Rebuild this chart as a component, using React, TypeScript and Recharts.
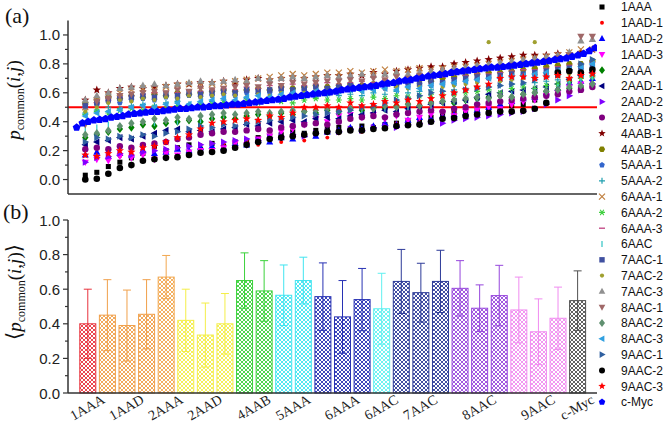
import React from "react";
import { ScatterChart, Scatter, XAxis, YAxis, ReferenceLine, ComposedChart, Bar } from "recharts";

const SANS = "'Liberation Sans', Arial, sans-serif";
const SERIF = "'Liberation Serif', 'DejaVu Serif', 'Times New Roman', serif";

// ---------- panel (a): p_common per sorted pair index (0..44) ----------
const v1AAA = [0.03,0.05,0.09,0.12,0.15,0.18,0.23,0.20,0.22,0.24,0.21,0.25,0.23,0.26,0.27,0.29,0.30,0.31,0.33,0.32,0.34,0.35,0.36,0.35,0.37,0.36,0.38,0.39,0.40,0.41,0.43,0.44,0.46,0.47,0.48,0.49,0.50,0.51,0.52,0.55,0.60,0.72,0.75,0.73,0.75];
const v1AAD1 = [0.17,0.15,0.19,0.16,0.18,0.21,0.14,0.20,0.22,0.19,0.24,0.22, 0.25,0.23,0.27,0.24,0.28,0.26,0.30,0.27,0.31,0.29,0.32, 0.35,0.33,0.37,0.36,0.39,0.38,0.42,0.41,0.44,0.46,0.48, 0.47,0.50,0.52,0.51,0.55,0.57,0.60,0.62,0.63,0.65,0.66];
const v1AAD2 = [0.17,0.19,0.16,0.18,0.17,0.20,0.18,0.19,0.21,0.20,0.22,0.23, 0.22,0.25,0.24,0.27,0.26,0.29,0.28,0.31,0.30,0.33,0.34, 0.36,0.35,0.37,0.39,0.38,0.41,0.43,0.42,0.44,0.45,0.46, 0.48,0.50,0.52,0.54,0.56,0.57,0.60,0.63,0.67,0.68,0.70];
const v1AAD3 = [0.12,0.14,0.13,0.16,0.15,0.17,0.14,0.18,0.17,0.19,0.20,0.20, 0.22,0.25,0.24,0.28,0.30,0.33,0.35,0.38,0.42,0.40,0.44, 0.45,0.43,0.45,0.42,0.44,0.41,0.43,0.45,0.46,0.44,0.47, 0.48,0.50,0.49,0.52,0.54,0.55,0.58,0.60,0.64,0.66,0.65];
const v2AAA = [0.29,0.31,0.33,0.35,0.36,0.38,0.37,0.39,0.40,0.41,0.40,0.42, 0.43,0.42,0.44,0.45,0.44,0.46,0.45,0.47,0.46,0.48,0.47, 0.49,0.48,0.50,0.49,0.51,0.52,0.51,0.53,0.54,0.53,0.55, 0.56,0.57,0.58,0.57,0.59,0.60,0.61,0.62,0.63,0.64,0.66];
const v2AAD1 = [0.24,0.26,0.27,0.29,0.28,0.30,0.32,0.34,0.35,0.33,0.34,0.33, 0.35,0.36,0.38,0.37,0.39,0.40,0.41,0.40,0.42,0.43,0.42, 0.44,0.45,0.46,0.48,0.47,0.49,0.50,0.52,0.53,0.54,0.55, 0.57,0.59,0.60,0.61,0.62,0.63,0.64,0.66,0.69,0.72,0.74];
const v2AAD2 = [0.12,0.15,0.16,0.18,0.17,0.19,0.20,0.21,0.22,0.23,0.24,0.25, 0.26,0.27,0.28,0.27,0.29,0.30,0.31,0.30,0.32,0.33,0.33, 0.35,0.34,0.36,0.37,0.36,0.38,0.39,0.40,0.39,0.41,0.42, 0.43,0.44,0.45,0.46,0.47,0.49,0.52,0.55,0.58,0.62,0.66];
const v2AAD3 = [0.21,0.22,0.21,0.23,0.22,0.24,0.25,0.26,0.28,0.29,0.31,0.32, 0.33,0.33,0.34,0.35,0.34,0.36,0.37,0.38,0.39,0.38,0.40, 0.42,0.43,0.44,0.43,0.45,0.46,0.47,0.48,0.47,0.49,0.50, 0.52,0.53,0.54,0.55,0.56,0.57,0.58,0.59,0.61,0.62,0.64];
const v4AAB1 = [0.55,0.62,0.60,0.63,0.64,0.63,0.64,0.65,0.66,0.66,0.67,0.67, 0.68,0.67,0.69,0.70,0.69,0.70,0.71,0.70,0.71,0.72,0.72, 0.73,0.72,0.74,0.73,0.75,0.76,0.77,0.78,0.78,0.80,0.81, 0.82,0.83,0.84,0.85,0.86,0.86,0.86,0.87,0.87,0.88,0.90];
const v4AAB2 = [0.53,0.55,0.57,0.56,0.58,0.57,0.59,0.58,0.60,0.59,0.60,0.61, 0.62,0.61,0.62,0.63,0.62,0.64,0.63,0.64,0.65,0.64,0.65, 0.66,0.65,0.66,0.67,0.66,0.68,0.69,0.68,0.70,0.71,0.72, 0.73,0.74,0.74,0.75,0.76,0.77,0.78,0.79,0.80,0.80,0.82];
const v5AAA1 = [0.50,0.52,0.54,0.53,0.55,0.56,0.55,0.57,0.56,0.58,0.57,0.58, 0.59,0.58,0.60,0.59,0.60,0.61,0.60,0.62,0.61,0.62,0.62, 0.63,0.62,0.64,0.63,0.65,0.64,0.66,0.65,0.67,0.66,0.68, 0.69,0.70,0.70,0.71,0.72,0.72,0.73,0.74,0.75,0.76,0.77];
const v5AAA2 = [0.46,0.48,0.50,0.49,0.51,0.52,0.51,0.53,0.54,0.52,0.53,0.54, 0.55,0.54,0.56,0.55,0.57,0.56,0.57,0.58,0.57,0.58,0.58, 0.59,0.58,0.60,0.59,0.61,0.60,0.61,0.62,0.61,0.62,0.63, 0.64,0.64,0.65,0.66,0.66,0.67,0.68,0.69,0.70,0.71,0.72];
const v6AAA1 = [0.50,0.55,0.58,0.60,0.62,0.63,0.62,0.64,0.65,0.66,0.65,0.66, 0.67,0.68,0.69,0.70,0.71,0.72,0.73,0.72,0.73,0.74,0.74, 0.75,0.74,0.75,0.76,0.75,0.76,0.77,0.76,0.77,0.78,0.78, 0.79,0.80,0.81,0.82,0.83,0.84,0.85,0.86,0.88,0.90,0.90];
const v6AAA2 = [0.45,0.47,0.46,0.48,0.49,0.48,0.50,0.49,0.51,0.50,0.52,0.52, 0.53,0.52,0.54,0.53,0.55,0.54,0.53,0.55,0.56,0.55,0.55, 0.56,0.55,0.57,0.56,0.58,0.57,0.58,0.59,0.58,0.59,0.60, 0.61,0.62,0.60,0.63,0.64,0.63,0.65,0.66,0.68,0.70,0.71];
const v6AAA3 = [0.50,0.53,0.55,0.57,0.58,0.59,0.60,0.61,0.60,0.62,0.61,0.62, 0.63,0.62,0.64,0.63,0.65,0.64,0.66,0.65,0.66,0.67,0.66, 0.67,0.68,0.67,0.69,0.68,0.70,0.69,0.70,0.71,0.70,0.72, 0.73,0.73,0.74,0.75,0.76,0.76,0.77,0.78,0.79,0.80,0.81];
const v6AAC = [0.35,0.36,0.38,0.37,0.39,0.40,0.39,0.41,0.40,0.42,0.41,0.42, 0.43,0.44,0.43,0.45,0.44,0.46,0.45,0.47,0.46,0.48,0.48, 0.49,0.48,0.50,0.49,0.51,0.50,0.52,0.51,0.53,0.54,0.55, 0.56,0.57,0.58,0.59,0.60,0.61,0.62,0.64,0.66,0.68,0.70];
const v7AAC1 = [0.51,0.53,0.55,0.56,0.57,0.58,0.57,0.59,0.58,0.60,0.59,0.60, 0.61,0.60,0.62,0.61,0.62,0.63,0.62,0.63,0.64,0.63,0.64, 0.65,0.64,0.65,0.66,0.65,0.67,0.66,0.68,0.67,0.69,0.70, 0.71,0.71,0.72,0.73,0.73,0.74,0.75,0.76,0.77,0.78,0.79];
const v7AAC2 = [0.47,0.50,0.53,0.55,0.54,0.56,0.55,0.57,0.56,0.58,0.57,0.58, 0.59,0.58,0.57,0.59,0.58,0.60,0.59,0.60,0.61,0.60,0.61, 0.62,0.61,0.62,0.63,0.64,0.63,0.64,0.65,0.64,0.65,0.66, 0.67,0.95,0.68,0.69,0.70,0.95,0.71,0.72,0.73,0.74,0.76];
const v7AAC3 = [0.55,0.58,0.60,0.63,0.64,0.65,0.66,0.65,0.66,0.67,0.68,0.67, 0.68,0.69,0.68,0.70,0.69,0.70,0.71,0.70,0.71,0.72,0.71, 0.72,0.73,0.72,0.73,0.74,0.73,0.74,0.75,0.76,0.77,0.78, 0.79,0.80,0.81,0.82,0.83,0.84,0.85,0.86,0.88,0.96,0.97];
const v8AAC1 = [0.38,0.54,0.56,0.58,0.59,0.60,0.61,0.60,0.62,0.61,0.63,0.62, 0.63,0.64,0.65,0.64,0.66,0.65,0.67,0.66,0.67,0.68,0.68, 0.69,0.68,0.70,0.69,0.71,0.70,0.72,0.71,0.73,0.74,0.75, 0.76,0.77,0.78,0.79,0.80,0.81,0.82,0.84,0.86,0.99,0.99];
const v8AAC2 = [0.31,0.32,0.34,0.37,0.39,0.40,0.42,0.41,0.43,0.42,0.44,0.45, 0.46,0.45,0.46,0.47,0.46,0.47,0.48,0.47,0.48,0.49,0.48, 0.49,0.50,0.49,0.51,0.50,0.52,0.51,0.53,0.54,0.55,0.56, 0.57,0.56,0.58,0.57,0.59,0.60,0.61,0.62,0.64,0.65,0.66];
const v8AAC3 = [0.44,0.46,0.47,0.48,0.50,0.51,0.50,0.52,0.53,0.52,0.54,0.55, 0.56,0.55,0.57,0.58,0.57,0.59,0.60,0.59,0.61,0.60,0.61, 0.62,0.61,0.62,0.63,0.62,0.64,0.63,0.65,0.66,0.67,0.68, 0.69,0.70,0.70,0.71,0.72,0.73,0.74,0.75,0.76,0.78,0.80];
const v9AAC1 = [0.26,0.29,0.28,0.30,0.29,0.31,0.30,0.32,0.33,0.35,0.37,0.36, 0.38,0.37,0.39,0.40,0.41,0.42,0.43,0.44,0.45,0.46,0.47, 0.48,0.50,0.51,0.53,0.55,0.56,0.58,0.60,0.61,0.60,0.62, 0.63,0.64,0.65,0.66,0.67,0.69,0.71,0.73,0.76,0.80,0.83];
const v9AAC2 = [0.00,0.005,0.04,0.08,0.10,0.13,0.14,0.15,0.155,0.17,0.185,0.19,0.20,0.22,0.24,0.26,0.28,0.29,0.30,0.31,0.32,0.33,0.33,0.34,0.34,0.35,0.355,0.37,0.375,0.38,0.40,0.42,0.425,0.44,0.45,0.46,0.47,0.47,0.475,0.49,0.53,0.74,0.75,0.74,0.76];
const v9AAC3 = [0.17,0.16,0.18,0.20,0.19,0.22,0.23,0.26,0.29,0.31,0.35,0.39, 0.40,0.41,0.42,0.41,0.44,0.43,0.46,0.50,0.50,0.51,0.50, 0.53,0.51,0.52,0.54,0.53,0.55,0.54,0.56,0.58,0.60,0.62, 0.64,0.66,0.70,0.71,0.71,0.70,0.71,0.72,0.70,0.72,0.73];
// c-Myc is sampled twice per index step, starting at index -0.75
const vCMyc = [0.36,0.39,0.40,0.41,0.415,0.42,0.43,0.435,0.44,0.45,0.455,0.46,0.465,0.47,0.47,0.475,0.48,0.485,0.49,0.49,0.495,0.50,0.50,0.505,0.51,0.51,0.515,0.52,0.52,0.525,0.53,0.535,0.54,0.545,0.55,0.555,0.56,0.57,0.575,0.58,0.585,0.59,0.595,0.60,0.605,0.61,0.62,0.625,0.63,0.635,0.64,0.645,0.65,0.66,0.665,0.67,0.68,0.685,0.69,0.70,0.705,0.715,0.72,0.725,0.73,0.74,0.745,0.75,0.755,0.76,0.765,0.77,0.775,0.775,0.78,0.785,0.79,0.795,0.80,0.805,0.81,0.815,0.82,0.83,0.835,0.84,0.85,0.86,0.87,0.89,0.91];

const seriesNames = ["1AAA","1AAD-1","1AAD-2","1AAD-3","2AAA","2AAD-1","2AAD-2","2AAD-3","4AAB-1","4AAB-2","5AAA-1","5AAA-2","6AAA-1","6AAA-2","6AAA-3","6AAC","7AAC-1","7AAC-2","7AAC-3","8AAC-1","8AAC-2","8AAC-3","9AAC-1","9AAC-2","9AAC-3","c-Myc"];
const seriesValues = [v1AAA,v1AAD1,v1AAD2,v1AAD3,v2AAA,v2AAD1,v2AAD2,v2AAD3,v4AAB1,v4AAB2,v5AAA1,v5AAA2,v6AAA1,v6AAA2,v6AAA3,v6AAC,v7AAC1,v7AAC2,v7AAC3,v8AAC1,v8AAC2,v8AAC3,v9AAC1,v9AAC2,v9AAC3,vCMyc];
const seriesColors = ["#000000","#ff0000","#0000ff","#ff00ff","#008000","#000080","#8000ff","#800080","#800000","#808000","#3366cc","#20a0b0","#c08040","#40d040","#c04080","#40c8c8","#4050a0","#a0a030","#909090","#a06868","#609070","#30a0e0","#3060a0","#000000","#ff0000","#0000ff"];
const seriesKinds = ["square","dot","triUp","triDown","diamond","triLeft","triRight","circle","star","hexagon","pentagon","plus","xcross","asterisk","dash","vbar","square","dot","triUp","triDown","diamond","triLeft","triRight","circle","star","pentagon"];
const seriesSizes = [2.8,2.6,3.2,3.2,3.2,3.2,3.2,3.2,3.4,3.2,2.6,3,3,3,3,3,3,2.8,3.3,3.3,3.2,3.2,3.2,3.3,3.3,3.6];

// ---------- panel (b): mean p_common per system ----------
const barMeans = [0.40,0.45,0.39,0.455,0.67,0.42,0.335,0.40,0.65,0.59,0.565,0.65,0.557,0.44,0.54,0.487,0.645,0.58,0.645,0.605,0.49,0.563,0.48,0.354,0.432,0.534];
const barErrs = [0.20,0.205,0.205,0.20,0.125,0.18,0.185,0.175,0.16,0.175,0.175,0.135,0.195,0.21,0.18,0.205,0.185,0.17,0.18,0.16,0.135,0.175,0.19,0.19,0.18,0.172];
const barColors = ["#e8323c","#f0a04b","#f0a04b","#f0a04b","#f2a850","#f4ee48","#f4ee48","#f4ee48","#3cd23c","#3cd23c","#40e4f0","#40e4f0","#2832b4","#2832b4","#2832b4","#60f0f0","#2c3a98","#2c3a98","#2c3a98","#9646dc","#9646dc","#9646dc","#f08cf0","#f08cf0","#f08cf0","#505050"];
const groupTicks = [1,3,5,7,9.5,11.5,14,16,18,21,24,26];
const groupLabels = ["1AAA","1AAD","2AAA","2AAD","4AAB","5AAA","6AAA","6AAC","7AAC","8AAC","9AAC","c-Myc"];
const yTicks = [0,0.1,0.2,0.3,0.4,0.5,0.6,0.7,0.8,0.9,1.0];

const barData = barMeans.map((v, i) => ({ x: i + 1, value: v, err: barErrs[i], ci: i }));

const STAR = Array.from({ length: 10 }, (_, i) => {
  const a = -Math.PI / 2 + (i * Math.PI) / 5;
  const r = i % 2 ? 0.55 : 1.3;
  return [r * Math.cos(a), r * Math.sin(a)];
});
const HEX = Array.from({ length: 6 }, (_, i) => {
  const a = (i * Math.PI) / 3;
  return [1.05 * Math.cos(a), 1.05 * Math.sin(a)];
});
const PENT = Array.from({ length: 5 }, (_, i) => {
  const a = -Math.PI / 2 + (i * 2 * Math.PI) / 5;
  return [1.15 * Math.cos(a), 1.15 * Math.sin(a)];
});

function Marker({ kind, color, cx, cy, s }: { kind: string; color: string; cx: number; cy: number; s: number }) {
  const pts = (arr: number[][]) => arr.map(([a, b]) => `${cx + a * s},${cy + b * s}`).join(" ");
  switch (kind) {
    case "square":
      return <rect x={cx - s * 0.9} y={cy - s * 0.9} width={s * 1.8} height={s * 1.8} fill={color} />;
    case "circle":
      return <circle cx={cx} cy={cy} r={s} fill={color} />;
    case "dot":
      return <circle cx={cx} cy={cy} r={s * 0.75} fill={color} />;
    case "triUp":
      return <polygon points={pts([[0, -1.2], [1.1, 0.8], [-1.1, 0.8]])} fill={color} />;
    case "triDown":
      return <polygon points={pts([[0, 1.2], [1.1, -0.8], [-1.1, -0.8]])} fill={color} />;
    case "triLeft":
      return <polygon points={pts([[-1.2, 0], [0.8, -1.1], [0.8, 1.1]])} fill={color} />;
    case "triRight":
      return <polygon points={pts([[1.2, 0], [-0.8, -1.1], [-0.8, 1.1]])} fill={color} />;
    case "diamond":
      return <polygon points={pts([[0, -1.3], [1, 0], [0, 1.3], [-1, 0]])} fill={color} />;
    case "star":
      return <polygon points={pts(STAR)} fill={color} />;
    case "hexagon":
      return <polygon points={pts(HEX)} fill={color} />;
    case "pentagon":
      return <polygon points={pts(PENT)} fill={color} />;
    case "plus":
      return <path d={`M${cx - s},${cy}H${cx + s}M${cx},${cy - s}V${cy + s}`} stroke={color} strokeWidth={1.2} />;
    case "xcross":
      return <path d={`M${cx - s},${cy - s}L${cx + s},${cy + s}M${cx + s},${cy - s}L${cx - s},${cy + s}`} stroke={color} strokeWidth={1.2} />;
    case "asterisk":
      return (
        <path
          d={`M${cx - s},${cy}H${cx + s}M${cx - s * 0.6},${cy - s * 0.9}L${cx + s * 0.6},${cy + s * 0.9}M${cx + s * 0.6},${cy - s * 0.9}L${cx - s * 0.6},${cy + s * 0.9}`}
          stroke={color}
          strokeWidth={1.1}
        />
      );
    case "dash":
      return <path d={`M${cx - s},${cy}H${cx + s}`} stroke={color} strokeWidth={1.3} />;
    case "vbar":
      return <path d={`M${cx},${cy - s}V${cy + s}`} stroke={color} strokeWidth={1.3} />;
    default:
      return null;
  }
}

function YTick(props: any) {
  const { x, y, payload } = props;
  const v = payload.value;
  const major = Math.round(v * 10) % 2 === 0;
  return (
    <g>
      <line x1={x - (major ? 5 : 3)} x2={x} y1={y} y2={y} stroke="#333" strokeWidth={1.2} />
      {major && (
        <text x={x - 8} y={y} dy={5.5} textAnchor="end" fontSize={15} fontFamily={SANS} fill="#222">
          {v.toFixed(1)}
        </text>
      )}
    </g>
  );
}

function GroupTick(props: any) {
  const { x, y, payload } = props;
  const i = groupTicks.indexOf(payload.value);
  const ty = y + 15;
  return (
    <text
      x={x}
      y={ty}
      dy={4}
      textAnchor="middle"
      transform={`rotate(-30 ${x} ${ty})`}
      fontSize={14}
      fontFamily={SERIF}
      fill="#222"
    >
      {groupLabels[i]}
    </text>
  );
}

function HatchBar(props: any) {
  const { x, y, width, height, payload } = props;
  const color = barColors[payload.ci];
  const perUnit = height / payload.value;
  const e = payload.err * perUnit;
  const cx = x + width / 2;
  return (
    <g>
      <rect x={x} y={y} width={width} height={height} fill={`url(#hatch${payload.ci})`} stroke={color} strokeWidth={1} />
      <line x1={cx} x2={cx} y1={y - e} y2={y + e} stroke={color} strokeWidth={1} />
      <line x1={cx - 4} x2={cx + 4} y1={y - e} y2={y - e} stroke={color} strokeWidth={1} />
      <line x1={cx - 4} x2={cx + 4} y1={y + e} y2={y + e} stroke={color} strokeWidth={1} />
    </g>
  );
}

const axisStyle = { stroke: "#333", strokeWidth: 1.5 };

export default function App() {
  return (
    <div style={{ position: "absolute", left: 0, top: 0, width: 666, height: 424, background: "#fff" }}>
      <div style={{ position: "absolute", left: 0, top: 0 }}>
        <ScatterChart width={666} height={200} margin={{ top: 20.5, right: 69, bottom: 5, left: 28 }}>
          <XAxis
            type="number"
            dataKey="x"
            domain={[-1.5, 44.4]}
            allowDataOverflow
            tick={false}
            tickLine={false}
            height={1}
            axisLine={axisStyle}
          />
          <YAxis
            type="number"
            dataKey="y"
            domain={[-0.1, 1.1]}
            ticks={yTicks}
            interval={0}
            tick={(p: any) => <YTick {...p} />}
            tickLine={false}
            tickSize={0}
            tickMargin={0}
            width={40}
            axisLine={axisStyle}
          />
          <ReferenceLine y={0.5} stroke="#ff0000" strokeWidth={2} />
          {seriesValues.map((vals, si) => {
            const isMyc = si === seriesValues.length - 1;
            const data = vals.map((v, k) => ({ x: isMyc ? -0.75 + k * 0.5 : k, y: v }));
            return (
              <Scatter
                key={seriesNames[si]}
                name={seriesNames[si]}
                data={data}
                isAnimationActive={false}
                shape={(p: any) => (
                  <Marker kind={seriesKinds[si]} color={seriesColors[si]} cx={p.cx} cy={p.cy} s={seriesSizes[si]} />
                )}
              />
            );
          })}
        </ScatterChart>
      </div>
      <div style={{ position: "absolute", left: 0, top: 200 }}>
        <ComposedChart width={666} height={224} data={barData} margin={{ top: 20, right: 69, bottom: 0, left: 28 }}>
          <defs>
            {barColors.map((c, i) => (
              <pattern key={i} id={`hatch${i}`} patternUnits="userSpaceOnUse" width={4} height={4}>
                <rect width={4} height={4} fill="#fff" />
                <path d="M0,0 L4,4 M4,0 L0,4" stroke={c} strokeWidth={0.9} />
              </pattern>
            ))}
          </defs>
          <XAxis
            type="number"
            dataKey="x"
            domain={[0, 27]}
            ticks={groupTicks}
            interval={0}
            tick={(p: any) => <GroupTick {...p} />}
            tickLine={false}
            tickSize={0}
            tickMargin={0}
            height={31}
            axisLine={axisStyle}
          />
          <YAxis
            type="number"
            domain={[0, 1]}
            ticks={yTicks}
            interval={0}
            tick={(p: any) => <YTick {...p} />}
            tickLine={false}
            tickSize={0}
            tickMargin={0}
            width={40}
            axisLine={axisStyle}
          />
          <Bar dataKey="value" barSize={16} isAnimationActive={false} shape={(p: any) => <HatchBar {...p} />} />
        </ComposedChart>
      </div>
      <svg width={666} height={424} style={{ position: "absolute", left: 0, top: 0, pointerEvents: "none" }}>
        <text x={5} y={23} fontFamily={SERIF} fontSize={22} fill="#111">(a)</text>
        <text x={3} y={219} fontFamily={SERIF} fontSize={22} fill="#111">(b)</text>
        <text transform="translate(20,100) rotate(-90)" textAnchor="middle" fontFamily={SERIF} fontSize={19} fill="#111">
          <tspan fontStyle="italic">p</tspan>
          <tspan fontSize={12} dy={4}>common</tspan>
          <tspan dy={-4}>(</tspan>
          <tspan fontStyle="italic">i</tspan>
          <tspan>,</tspan>
          <tspan fontStyle="italic">j</tspan>
          <tspan>)</tspan>
        </text>
        <text transform="translate(21,292) rotate(-90)" textAnchor="middle" fontFamily={SERIF} fontSize={19} fill="#111">
          <tspan fontSize={21}>⟨</tspan>
          <tspan fontStyle="italic">p</tspan>
          <tspan fontSize={12} dy={4}>common</tspan>
          <tspan dy={-4}>(</tspan>
          <tspan fontStyle="italic">i</tspan>
          <tspan>,</tspan>
          <tspan fontStyle="italic">j</tspan>
          <tspan>)</tspan>
          <tspan fontSize={21}>⟩</tspan>
        </text>
        {seriesNames.map((n, i) => {
          const cy = 7 + i * 15.8;
          return (
            <g key={n}>
              <Marker kind={seriesKinds[i]} color={seriesColors[i]} cx={602} cy={cy} s={Math.min(seriesSizes[i], 3)} />
              <text x={621} y={cy} dy={4.3} fontFamily={SANS} fontSize={12} fill="#111">{n}</text>
            </g>
          );
        })}
      </svg>
    </div>
  );
}
